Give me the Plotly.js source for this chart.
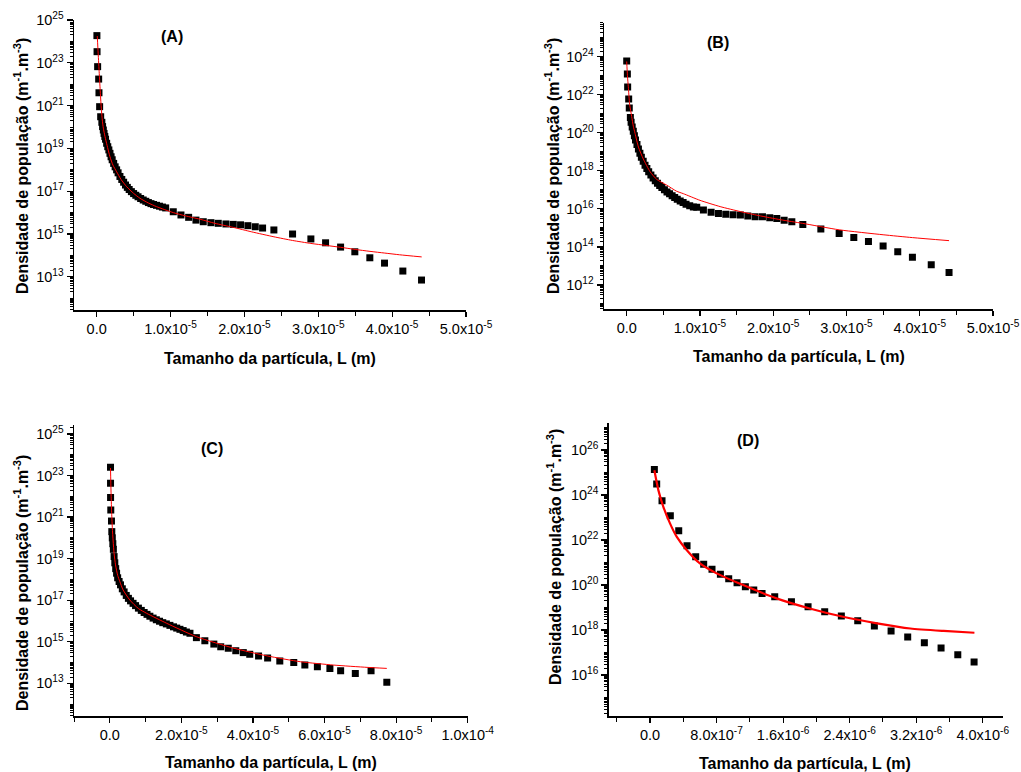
<!DOCTYPE html>
<html>
<head>
<meta charset="utf-8">
<script src="https://cdn.plot.ly/plotly-3.0.1.min.js"></script>
<style>html,body{margin:0;padding:0;background:#fff;}#chart{width:1021px;height:772px;}</style>
</head>
<body>
<div id="chart"></div>
<script>
// ---------- DATA (x in metres, y given as log10 of population density) ----------
// Panel A
const aExpX = [0.003e-5,0.005e-5,0.013e-5,0.027e-5,0.031e-5,0.040e-5,0.054e-5,
  0.07e-5,0.08e-5,0.09e-5,0.10e-5,0.11e-5,0.12e-5,0.135e-5,0.15e-5,0.165e-5,0.18e-5,0.195e-5,0.21e-5,0.23e-5,0.25e-5,0.27e-5,0.29e-5,0.315e-5,0.34e-5,0.365e-5,0.39e-5,0.415e-5,0.44e-5,0.47e-5,0.50e-5,0.53e-5,0.56e-5,0.595e-5,0.63e-5,0.665e-5,0.70e-5,0.735e-5,0.77e-5,0.81e-5,0.85e-5,0.89e-5,
  0.934e-5,1.037e-5,1.141e-5,1.245e-5,1.344e-5,1.443e-5,1.547e-5,1.646e-5,1.75e-5,1.849e-5,1.948e-5,2.047e-5,2.147e-5,2.246e-5,2.399e-5,2.652e-5,2.90e-5,3.099e-5,3.302e-5,3.495e-5,3.698e-5,3.897e-5,4.145e-5,4.398e-5];
const aExpLogY = [24.27,23.52,22.82,22.24,21.60,20.95,20.48,
  20.22,20.02,19.86,19.70,19.56,19.43,19.24,19.08,18.93,18.77,18.61,18.47,18.30,18.14,18.00,17.86,17.69,17.55,17.42,17.29,17.18,17.08,16.98,16.89,16.81,16.74,16.66,16.59,16.53,16.47,16.42,16.38,16.34,16.30,16.26,
  16.22,16.04,15.89,15.78,15.65,15.575,15.53,15.50,15.47,15.45,15.43,15.39,15.34,15.28,15.19,15.00,14.77,14.59,14.39,14.17,13.89,13.64,13.27,12.85];
const aFitX = [0.008e-5,0.02e-5,0.035e-5,0.045e-5,0.06e-5,0.076e-5,0.09e-5,0.113e-5,0.14e-5,0.18e-5,0.22e-5,0.27e-5,0.33e-5,0.406e-5,0.50e-5,0.586e-5,0.70e-5,0.81e-5,1.037e-5,1.20e-5,1.40e-5,1.60e-5,1.85e-5,2.10e-5,2.40e-5,2.65e-5,2.90e-5,3.10e-5,3.30e-5,3.50e-5,3.70e-5,3.90e-5,4.10e-5,4.40e-5];
const aFitLogY = [24.25,23.45,22.50,21.88,21.00,20.33,19.95,19.55,19.15,18.61,18.22,17.91,17.55,17.21,16.90,16.67,16.45,16.28,16.00,15.85,15.69,15.50,15.31,15.10,14.87,14.70,14.56,14.47,14.38,14.28,14.19,14.11,14.03,13.93];

// Panel B
const bExpX = [0.0e-5,0.009e-5,0.013e-5,0.027e-5,0.035e-5,0.05e-5,
  0.06e-5,0.075e-5,0.09e-5,0.105e-5,0.12e-5,0.14e-5,0.16e-5,0.18e-5,0.20e-5,0.225e-5,0.25e-5,0.275e-5,0.30e-5,0.33e-5,0.36e-5,0.39e-5,0.42e-5,0.45e-5,0.48e-5,0.515e-5,0.55e-5,0.585e-5,0.62e-5,0.655e-5,0.69e-5,0.73e-5,0.77e-5,0.81e-5,0.86e-5,0.91e-5,
  0.956e-5,1.047e-5,1.152e-5,1.252e-5,1.352e-5,1.452e-5,1.552e-5,1.653e-5,1.753e-5,1.853e-5,1.953e-5,2.049e-5,2.149e-5,2.254e-5,2.404e-5,2.65e-5,2.90e-5,3.10e-5,3.30e-5,3.50e-5,3.70e-5,3.90e-5,4.157e-5,4.40e-5];
const bExpLogY = [23.78,23.09,22.41,21.78,21.30,20.80,
  20.55,20.30,20.08,19.85,19.62,19.38,19.15,18.93,18.72,18.50,18.30,18.12,17.95,17.78,17.62,17.48,17.35,17.23,17.12,17.00,16.89,16.79,16.69,16.60,16.51,16.42,16.33,16.25,16.17,16.10,
  16.08,15.94,15.82,15.76,15.72,15.69,15.68,15.63,15.59,15.58,15.53,15.49,15.40,15.33,15.18,14.94,14.70,14.49,14.28,14.05,13.75,13.46,13.06,12.65];
const bFitX = [0.0e-5,0.01e-5,0.022e-5,0.04e-5,0.068e-5,0.09e-5,0.114e-5,0.16e-5,0.227e-5,0.32e-5,0.41e-5,0.546e-5,0.68e-5,0.773e-5,1.0e-5,1.275e-5,1.55e-5,1.80e-5,2.10e-5,2.40e-5,2.90e-5,3.50e-5,3.90e-5,4.40e-5];
const bFitLogY = [23.75,23.00,22.42,21.50,20.85,20.35,19.97,19.25,18.62,17.95,17.55,17.25,16.93,16.80,16.45,16.12,15.86,15.65,15.43,15.24,14.90,14.64,14.49,14.33];

// Panel C
const cExpX = [0.02e-5,0.021e-5,0.022e-5,0.028e-5,0.047e-5,0.056e-5,
  0.07e-5,0.085e-5,0.10e-5,0.12e-5,0.14e-5,0.165e-5,0.19e-5,0.22e-5,0.26e-5,0.30e-5,0.35e-5,0.40e-5,0.46e-5,0.52e-5,0.58e-5,0.65e-5,0.72e-5,0.80e-5,0.88e-5,0.96e-5,1.04e-5,1.12e-5,1.21e-5,1.30e-5,1.39e-5,1.48e-5,1.58e-5,1.68e-5,1.78e-5,1.87e-5,1.96e-5,2.05e-5,2.14e-5,2.24e-5,
  2.42e-5,2.656e-5,2.907e-5,3.10e-5,3.31e-5,3.52e-5,3.73e-5,3.91e-5,4.157e-5,4.41e-5,4.75e-5,5.14e-5,5.45e-5,5.80e-5,6.15e-5,6.45e-5,6.86e-5,7.30e-5,7.74e-5];
const cExpLogY = [23.40,22.63,21.94,21.34,20.81,20.30,
  20.00,19.72,19.45,19.10,18.80,18.52,18.30,18.08,17.90,17.74,17.55,17.40,17.23,17.09,16.97,16.85,16.74,16.62,16.51,16.41,16.32,16.23,16.14,16.06,15.99,15.92,15.86,15.79,15.72,15.66,15.60,15.54,15.47,15.41,
  15.20,15.05,14.89,14.76,14.69,14.57,14.48,14.40,14.32,14.22,14.08,14.00,13.88,13.80,13.71,13.61,13.48,13.61,13.05];
const cFitX = [0.02e-5,0.035e-5,0.05e-5,0.07e-5,0.093e-5,0.12e-5,0.16e-5,0.22e-5,0.28e-5,0.37e-5,0.56e-5,0.80e-5,1.03e-5,1.59e-5,2.43e-5,3.47e-5,4.40e-5,5.33e-5,6.26e-5,7.19e-5,7.74e-5];
const cFitLogY = [23.36,22.20,21.30,20.50,19.85,19.25,18.70,18.20,17.90,17.50,17.01,16.60,16.37,15.89,15.24,14.69,14.32,14.04,13.88,13.77,13.72];

// Panel D
const dExpX = [0.052e-6,0.08e-6,0.144e-6,0.244e-6,0.345e-6,0.445e-6,0.549e-6,0.645e-6,0.745e-6,0.846e-6,0.946e-6,1.046e-6,1.146e-6,1.247e-6,1.347e-6,1.499e-6,1.70e-6,1.90e-6,2.10e-6,2.30e-6,2.497e-6,2.697e-6,2.898e-6,3.098e-6,3.298e-6,3.499e-6,3.70e-6,3.896e-6];
const dExpLogY = [25.14,24.49,23.75,23.08,22.41,21.75,21.26,20.92,20.70,20.48,20.28,20.10,19.92,19.78,19.63,19.48,19.26,19.04,18.81,18.62,18.41,18.18,17.96,17.69,17.44,17.20,16.90,16.58];
const dFitX = [0.052e-6,0.10e-6,0.16e-6,0.24e-6,0.32e-6,0.44e-6,0.60e-6,0.80e-6,1.12e-6,1.52e-6,1.92e-6,2.32e-6,2.73e-6,3.13e-6,3.53e-6,3.90e-6];
const dFitLogY = [25.10,24.22,23.48,22.74,22.15,21.56,20.96,20.52,20.00,19.41,18.96,18.59,18.30,18.07,17.96,17.88];

// Tick labels
const xTickValsAB = [0, 1e-5, 2e-5, 3e-5, 4e-5, 5e-5];
const xTickTextAB = ['0.0','1.0x10<sup>-5</sup>','2.0x10<sup>-5</sup>','3.0x10<sup>-5</sup>','4.0x10<sup>-5</sup>','5.0x10<sup>-5</sup>'];
const xTickValsC = [0, 2e-5, 4e-5, 6e-5, 8e-5, 1e-4];
const xTickTextC = ['0.0','2.0x10<sup>-5</sup>','4.0x10<sup>-5</sup>','6.0x10<sup>-5</sup>','8.0x10<sup>-5</sup>','1.0x10<sup>-4</sup>'];
const xTickValsD = [0, 8e-7, 1.6e-6, 2.4e-6, 3.2e-6, 4.0e-6];
const xTickTextD = ['0.0','8.0x10<sup>-7</sup>','1.6x10<sup>-6</sup>','2.4x10<sup>-6</sup>','3.2x10<sup>-6</sup>','4.0x10<sup>-6</sup>'];
const xMinorAB = [0.5e-5, 1.5e-5, 2.5e-5, 3.5e-5, 4.5e-5];
const xMinorC = [-1e-5, 1e-5, 3e-5, 5e-5, 7e-5, 9e-5];
const xMinorD = [-4e-7, 4e-7, 1.2e-6, 2.0e-6, 2.8e-6, 3.6e-6];

// ---------- helpers ----------
const W = 1021, H = 772;
const pow10 = arr => arr.map(v => Math.pow(10, v));
const FONT = 'Arial, "Liberation Sans", sans-serif';

// labelled decades are major ticks; other decades and 2..9 sub-ticks are minor ticks
function logAxisTicks(lo, hi, parity) {
  const vals = [], text = [], minor = [];
  for (let k = Math.floor(lo); k <= Math.ceil(hi); k++) {
    if (k >= lo && k <= hi) {
      if (((k % 2) + 2) % 2 === parity) {
        vals.push(Math.pow(10, k));
        text.push('10<sup>' + k + '</sup>');
      } else {
        minor.push(Math.pow(10, k));
      }
    }
    for (let m = 2; m <= 9; m++) {
      const lv = k + Math.log10(m);
      if (lv >= lo && lv <= hi) minor.push(m * Math.pow(10, k));
    }
  }
  return {vals, text, minor};
}

function yAxis(lo, hi, parity, domain, anchor) {
  const t = logAxisTicks(lo, hi, parity);
  return {
    type: 'log', range: [lo, hi], domain: domain, anchor: anchor,
    showline: true, linecolor: '#000', linewidth: 1.5, mirror: false,
    showgrid: false, zeroline: false,
    ticks: 'outside', ticklen: 6, tickwidth: 1.2, tickcolor: '#000',
    tickmode: 'array', tickvals: t.vals, ticktext: t.text,
    tickfont: {family: FONT, size: 14.5, color: '#000'},
    minor: {tickmode: 'array', tickvals: t.minor, ticks: 'outside', ticklen: 3, tickwidth: 1, tickcolor: '#000', showgrid: false}
  };
}

function xAxis(range, vals, text, minorVals, domain, anchor) {
  return {
    type: 'linear', range: range, domain: domain, anchor: anchor,
    showline: true, linecolor: '#000', linewidth: 1.5, mirror: false,
    showgrid: false, zeroline: false,
    ticks: 'outside', ticklen: 5, tickwidth: 1.2, tickcolor: '#000',
    tickmode: 'array', tickvals: vals, ticktext: text,
    tickfont: {family: FONT, size: 14.5, color: '#000'},
    minor: {tickmode: 'array', tickvals: minorVals, ticks: 'outside', ticklen: 4, tickwidth: 1, tickcolor: '#000', showgrid: false}
  };
}

const dx = (p0, p1) => [p0 / W, p1 / W];
const dy = (top, bottom) => [1 - bottom / H, 1 - top / H];

function scatter(x, ly, xa, ya) {
  return {x: x, y: pow10(ly), xaxis: xa, yaxis: ya, type: 'scatter', mode: 'markers',
    marker: {symbol: 'square', size: 7, color: '#000', line: {width: 0}}, showlegend: false, hoverinfo: 'skip'};
}
function fit(x, ly, xa, ya, w) {
  return {x: x, y: pow10(ly), xaxis: xa, yaxis: ya, type: 'scatter', mode: 'lines',
    line: {color: '#ff0000', width: w, shape: 'spline', smoothing: 0.6}, showlegend: false, hoverinfo: 'skip'};
}

const data = [
  scatter(aExpX, aExpLogY, 'x', 'y'), fit(aFitX, aFitLogY, 'x', 'y', 1),
  scatter(bExpX, bExpLogY, 'x2', 'y2'), fit(bFitX, bFitLogY, 'x2', 'y2', 1),
  scatter(cExpX, cExpLogY, 'x3', 'y3'), fit(cFitX, cFitLogY, 'x3', 'y3', 1),
  scatter(dExpX, dExpLogY, 'x4', 'y4'), fit(dFitX, dFitLogY, 'x4', 'y4', 2.2)
];

function ann(text, px, py, size, angle) {
  return {text: text, x: px / W, y: 1 - py / H, xref: 'paper', yref: 'paper', showarrow: false,
    xanchor: 'center', yanchor: 'middle', textangle: angle || 0,
    font: {family: FONT, size: size, color: '#000', weight: 'bold'}};
}
const xTitle = 'Tamanho da partícula, L (m)';
const yTitle = 'Densidade de população (m<sup>-1</sup>.m<sup>-3</sup>)';

const layout = {
  width: W, height: H, margin: {l: 0, r: 0, t: 0, b: 0},
  paper_bgcolor: '#fff', plot_bgcolor: '#fff', showlegend: false,
  font: {family: FONT, color: '#000'},
  xaxis:  xAxis([-0.307e-5, 5.0e-5], xTickValsAB, xTickTextAB, xMinorAB, dx(74, 466), 'y'),
  yaxis:  yAxis(11.45, 25.0, 1, dy(20, 310), 'x'),
  xaxis2: xAxis([-0.31e-5, 5.0e-5], xTickValsAB, xTickTextAB, xMinorAB, dx(604, 993), 'y2'),
  yaxis2: yAxis(10.72, 25.79, 0, dy(22.7, 309.3), 'x2'),
  xaxis3: xAxis([-1.0e-5, 1.0e-4], xTickValsC, xTickTextC, xMinorC, dx(74, 467.7), 'y3'),
  yaxis3: yAxis(11.43, 25.43, 1, dy(425, 716), 'x3'),
  xaxis4: xAxis([-0.497e-6, 4.24e-6], xTickValsD, xTickTextD, xMinorD, dx(608.7, 1002.7), 'y4'),
  yaxis4: yAxis(14.18, 27.19, 0, dy(423.3, 716), 'x4'),
  annotations: [
    ann('(A)', 172, 37, 16), ann('(B)', 718, 43, 16), ann('(C)', 212, 449, 16), ann('(D)', 748, 440, 16),
    ann(xTitle, 270, 358, 16), ann(xTitle, 799, 356, 16), ann(xTitle, 271, 762, 16), ann(xTitle, 805, 763, 16),
    ann(yTitle, 21, 166, 16, -90), ann(yTitle, 552, 166, 16, -90), ann(yTitle, 21, 583, 16, -90), ann(yTitle, 554, 557, 16, -90)
  ]
};

Plotly.newPlot('chart', data, layout, {staticPlot: true, displayModeBar: false});
</script>
</body>
</html>
